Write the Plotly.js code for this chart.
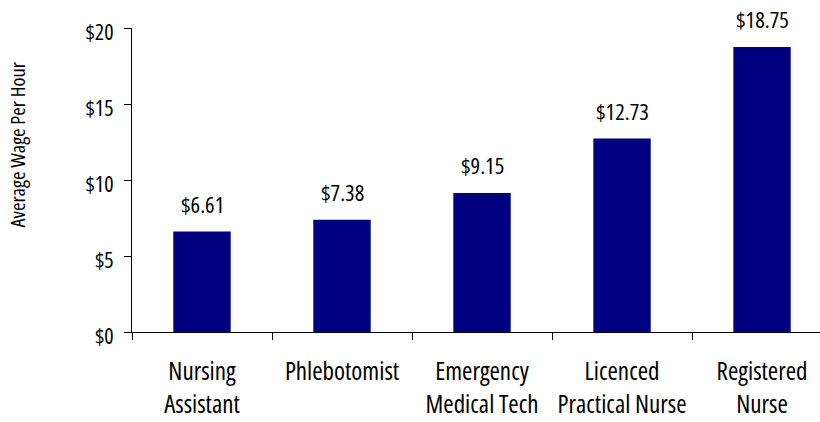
<!DOCTYPE html>
<html><head><meta charset="utf-8">
<script src="https://cdn.plot.ly/plotly-3.0.1.min.js"></script>
<style>html,body{margin:0;padding:0;background:#fff}
svg text{font-stretch:75%}</style>
</head><body>
<div id="chart" style="width:820px;height:422px"></div>
<script>
const categories = ["Nursing<br>Assistant", "Phlebotomist", "Emergency<br>Medical Tech", "Licenced<br>Practical Nurse", "Registered<br>Nurse"];
const wages = [6.61, 7.38, 9.15, 12.73, 18.75];
const wageLabels = ["$6.61", "$7.38", "$9.15", "$12.73", "$18.75"];
const yTickVals = [0, 5, 10, 15, 20];
const yTickText = ["$0", "$5", "$10", "$15", "$20"];

const FONT = "'Open Sans', sans-serif";
const W = 400;

const trace = {
  type: "bar",
  x: categories,
  y: wages,
  width: 0.41,
  marker: {color: "#000080", line: {width: 0}},
  hoverinfo: "none"
};

const annotations = categories.map((c, i) => ({
  x: c, y: wages[i], xref: "x", yref: "y",
  text: wageLabels[i], showarrow: false,
  yanchor: "bottom", yshift: 10,
  font: {family: FONT, size: 22.5, color: "#000", weight: W}
}));
annotations.push({
  xref: "paper", yref: "paper", x: -0.1664, y: 0.615,
  xanchor: "center", yanchor: "middle",
  text: "Average Wage Per Hour", textangle: -90, showarrow: false,
  font: {family: FONT, size: 20.5, color: "#000", weight: W}
});

const layout = {
  width: 820, height: 422,
  margin: {l: 132, r: 0, t: 28, b: 90},
  paper_bgcolor: "#fff", plot_bgcolor: "#fff",
  showlegend: false,
  font: {family: FONT, color: "#000"},
  xaxis: {
    type: "category",
    range: [-0.5, 4.414],
    showline: true, linecolor: "#000", linewidth: 1,
    ticks: "outside", ticklen: 7, tickcolor: "#000", tickwidth: 1,
    tickson: "boundaries", tickangle: 0,
    ticklabelstandoff: 17,
    showgrid: false, zeroline: false,
    tickfont: {family: FONT, size: 25, color: "#000", weight: W}
  },
  yaxis: {
    range: [0, 20],
    tickvals: yTickVals, ticktext: yTickText,
    showline: true, linecolor: "#000", linewidth: 1,
    ticks: "outside", ticklen: 7, tickcolor: "#000", tickwidth: 1,
    ticklabelstandoff: 6, ticklabelshift: 4,
    showgrid: false, zeroline: false,
    tickfont: {family: FONT, size: 22, color: "#000", weight: W}
  },
  annotations: annotations
};

Plotly.newPlot("chart", [trace], layout, {displayModeBar: false, staticPlot: true});
</script>
</body></html>
